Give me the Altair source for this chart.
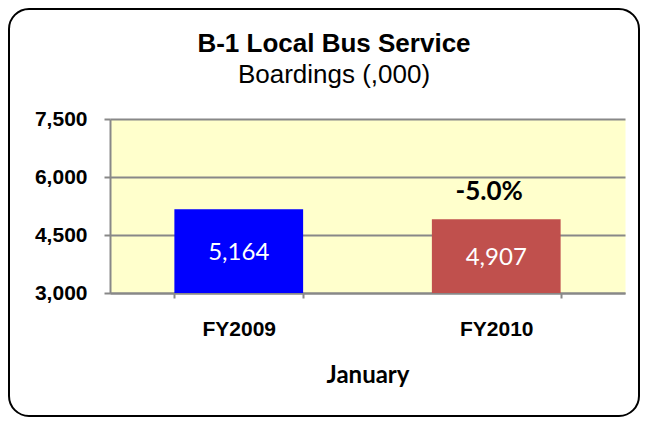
import altair as alt
import pandas as pd

periods = ["FY2009", "FY2010"]
boardings = [5164, 4907]
bar_colors = ["#0000FF", "#C0504D"]
change_labels = ["", "-5.0%"]
y_ticks = [3000, 4500, 6000, 7500]
title_text = "B-1 Local Bus Service"
subtitle_text = "Boardings (,000)"
x_title = "January"
base_value = 3000

df = pd.DataFrame({"period": periods, "value": boardings, "change": change_labels})
df["label"] = [f"{v:,}" for v in boardings]
df["mid"] = [(v + base_value) / 2 for v in boardings]

GRAY = "#888888"

x_enc = alt.X(
    "period:N",
    sort=periods,
    scale=alt.Scale(paddingInner=0.5, paddingOuter=0.25),
    axis=alt.Axis(
        labelAngle=0, tickBand="extent", tickSize=5, labelPadding=20,
        labelFont="Liberation Sans", labelFontWeight="bold", labelFontSize=21,
        labelColor="black", domainColor=GRAY, domainWidth=2,
        tickColor=GRAY, tickWidth=2, grid=False,
        title=x_title, titleFont="Lato", titleFontWeight="bold",
        titleFontSize=24, titleColor="black", titlePadding=24,
    ),
)
y_scale = alt.Scale(domain=[3000, 7500], nice=False, zero=False)
y_enc = alt.Y(
    "value:Q",
    scale=y_scale,
    axis=alt.Axis(
        values=y_ticks, format=",.0f", tickSize=6, labelPadding=17,
        labelFont="Liberation Sans", labelFontWeight="bold", labelFontSize=21,
        labelColor="black", domainColor=GRAY, domainWidth=2,
        tickColor=GRAY, tickWidth=2, gridColor=GRAY, gridWidth=2,
        title=None,
    ),
)

base = alt.Chart(df)

bars = base.mark_bar().encode(
    x=x_enc,
    y=y_enc,
    y2=alt.datum(base_value),
    color=alt.Color("period:N", scale=alt.Scale(domain=periods, range=bar_colors), legend=None),
)

bar_labels = base.mark_text(font="Lato", fontSize=24, color="white",
                            baseline="alphabetic", dy=9).encode(
    x=alt.X("period:N", sort=periods),
    y=alt.Y("mid:Q", scale=y_scale),
    text="label:N",
)

change = base.mark_text(font="Lato", fontSize=26, fontWeight="bold", color="black",
                        baseline="alphabetic", dy=-19, dx=-7).encode(
    x=alt.X("period:N", sort=periods),
    y=alt.Y("value:Q", scale=y_scale),
    text="change:N",
)

one = pd.DataFrame({"t": [title_text], "s": [subtitle_text]})
title = alt.Chart(one).mark_text(font="Liberation Sans", fontSize=26, fontWeight="bold",
                                 color="black", baseline="alphabetic").encode(
    x=alt.value(224), y=alt.value(-67), text="t:N")
subtitle = alt.Chart(one).mark_text(font="Liberation Sans", fontSize=26,
                                    color="black", baseline="alphabetic").encode(
    x=alt.value(224), y=alt.value(-36), text="s:N")
border = alt.Chart(one).mark_rect(fillOpacity=0, stroke="black", strokeWidth=2,
                                  cornerRadius=20).encode(
    x=alt.value(-101), x2=alt.value(529), y=alt.value(-110), y2=alt.value(297))

chart = alt.layer(bars, bar_labels, change, title, subtitle, border).properties(
    width=515, height=174,
    autosize=alt.AutoSizeParams(type="none"),
    padding={"left": 102, "top": 111, "right": 15, "bottom": 124},
).configure_view(fill="#FFFFCC", strokeOpacity=0)

chart.save("out.html", embed_options={"renderer": "svg", "actions": False})
